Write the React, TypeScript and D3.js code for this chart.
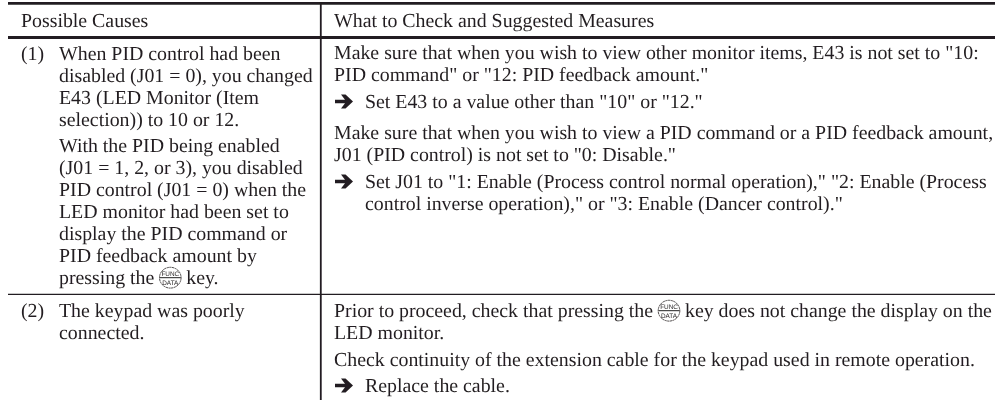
import * as d3 from "d3";

const headers = ["Possible Causes", "What to Check and Suggested Measures"];

// each paragraph is a list of lines; "@" marks where the key icon sits
const cause1a = [
  "When PID control had been",
  "disabled (J01 = 0), you changed",
  "E43 (LED Monitor (Item",
  "selection)) to 10 or 12.",
];
const cause1b = [
  "With the PID being enabled",
  "(J01 = 1, 2, or 3), you disabled",
  "PID control (J01 = 0) when the",
  "LED monitor had been set to",
  "display the PID command or",
  "PID feedback amount by",
  "pressing the @ key.",
];
const cause2 = ["The keypad was poorly", "connected."];

const measure1 = [
  'Make sure that when you wish to view other monitor items, E43 is not set to "10:',
  'PID command" or "12: PID feedback amount."',
];
const measure2 = ['Set E43 to a value other than "10" or "12."'];
const measure3 = [
  "Make sure that when you wish to view a PID command or a PID feedback amount,",
  'J01 (PID control) is not set to "0: Disable."',
];
const measure4 = [
  'Set J01 to "1: Enable (Process control normal operation)," "2: Enable (Process',
  'control inverse operation)," or "3: Enable (Dancer control)."',
];
const measure5 = ["Prior to proceed, check that pressing the @ key does not change the display on the", "LED monitor."];
const measure6 = ["Check continuity of the extension cable for the keypad used in remote operation."];
const measure7 = ["Replace the cable."];

const rows = ["top", "head", "one"];
const rowLabels = ["(1)", "(2)"];

const FONT = '"Liberation Serif", "Times New Roman", serif';
const SIZE = 19.85;
const LINE = 22;
const INK = "#231f20";

const x = d3.scaleOrdinal<string, number>().domain(["left", "mid", "right"]).range([8, 320.8, 995]);
const y = d3.scaleOrdinal<string, number>().domain(rows).range([3.3, 37.5, 294.3]);

// canvas measure so the icon lands right after the text run
const ctx = typeof document !== "undefined" ? document.createElement("canvas").getContext("2d") : null;
function measure(s: string) {
  if (!ctx) return s.length * 8;
  ctx.font = `${SIZE}px ${FONT}`;
  return ctx.measureText(s).width;
}

function Arrow({ x0, y0 }: { x0: number; y0: number }) {
  const p = d3.path();
  p.moveTo(x0, y0 - 8.2);
  p.lineTo(x0 + 10, y0 - 8.2);
  p.lineTo(x0 + 6, y0 - 13.5);
  p.lineTo(x0 + 10.5, y0 - 13.5);
  p.lineTo(x0 + 18, y0 - 6.5);
  p.lineTo(x0 + 10.5, y0 + 0.5);
  p.lineTo(x0 + 6, y0 + 0.5);
  p.lineTo(x0 + 10, y0 - 4.8);
  p.lineTo(x0, y0 - 4.8);
  p.closePath();
  return <path d={p.toString()} fill={INK} />;
}

function KeyIcon({ line, x0, y0, rest }: { line: string; x0: number; y0: number; rest: string }) {
  const cx = x0 + measure(line) + 11;
  const cy = y0 - 6.3;
  return (
    <g>
      <ellipse cx={cx} cy={cy} rx={10.8} ry={10.4} fill="none" stroke={INK} strokeWidth={0.8} strokeDasharray="2.2 0.5" />
      <line x1={cx - 10.5} x2={cx + 10.5} y1={cy} y2={cy} stroke={INK} strokeWidth={1} />
      <text x={cx} y={cy - 2.2} textAnchor="middle" fontFamily="'Liberation Sans', sans-serif" fontSize={6.4}>
        FUNC
      </text>
      <text x={cx} y={cy + 7} textAnchor="middle" fontFamily="'Liberation Sans', sans-serif" fontSize={6.4}>
        DATA
      </text>
      <text x={cx + 11} y={y0} xmlSpace="preserve">
        {rest}
      </text>
    </g>
  );
}

function Para({ lines, x0, y0, arrow }: { lines: string[]; x0: number; y0: number; arrow?: boolean }) {
  return (
    <g>
      {arrow && <Arrow x0={335} y0={y0} />}
      {lines.map((line, i) => {
        const parts = line.split("@");
        const yy = y0 + i * LINE;
        return (
          <g key={i}>
            <text x={x0} y={yy} xmlSpace="preserve">
              {parts[0]}
            </text>
            {parts.length > 1 && <KeyIcon line={parts[0]} x0={x0} y0={yy} rest={parts[1]} />}
          </g>
        );
      })}
    </g>
  );
}

export default function App() {
  const left = x("left");
  const mid = x("mid");
  const right = x("right");
  return (
    <svg
      width={995}
      height={400}
      style={{ position: "absolute", left: 0, top: 0, background: "#fff" }}
      fontFamily={FONT}
      fontSize={SIZE}
      fill={INK}
      textRendering="geometricPrecision"
    >
      <defs>
        <filter id="soft" x="0" y="0" width="100%" height="100%">
          <feGaussianBlur stdDeviation="0.35" />
        </filter>
      </defs>
      <g filter="url(#soft)">
        <line x1={left} x2={right} y1={y("top")} y2={y("top")} stroke={INK} strokeWidth={2.8} />
        <line x1={left} x2={right} y1={y("head")} y2={y("head")} stroke={INK} strokeWidth={2.8} />
        <line x1={left} x2={right} y1={y("one")} y2={y("one")} stroke={INK} strokeWidth={1.2} />
        <line x1={mid} x2={mid} y1={2} y2={400} stroke={INK} strokeWidth={1.8} />

        <text x={21} y={26.5}>{headers[0]}</text>
        <text x={334} y={26.5}>{headers[1]}</text>

        <text x={21} y={60}>{rowLabels[0]}</text>
        <Para lines={cause1a} x0={59} y0={60} />
        <Para lines={cause1b} x0={59} y0={152} />
        <text x={21} y={317}>{rowLabels[1]}</text>
        <Para lines={cause2} x0={59} y0={317} />

        <Para lines={measure1} x0={334} y0={59} />
        <Para lines={measure2} x0={365} y0={108} arrow />
        <Para lines={measure3} x0={334} y0={139} />
        <Para lines={measure4} x0={365} y0={188} arrow />
        <Para lines={measure5} x0={334} y0={317} />
        <Para lines={measure6} x0={334} y0={366} />
        <Para lines={measure7} x0={365} y0={392} arrow />
      </g>
    </svg>
  );
}
